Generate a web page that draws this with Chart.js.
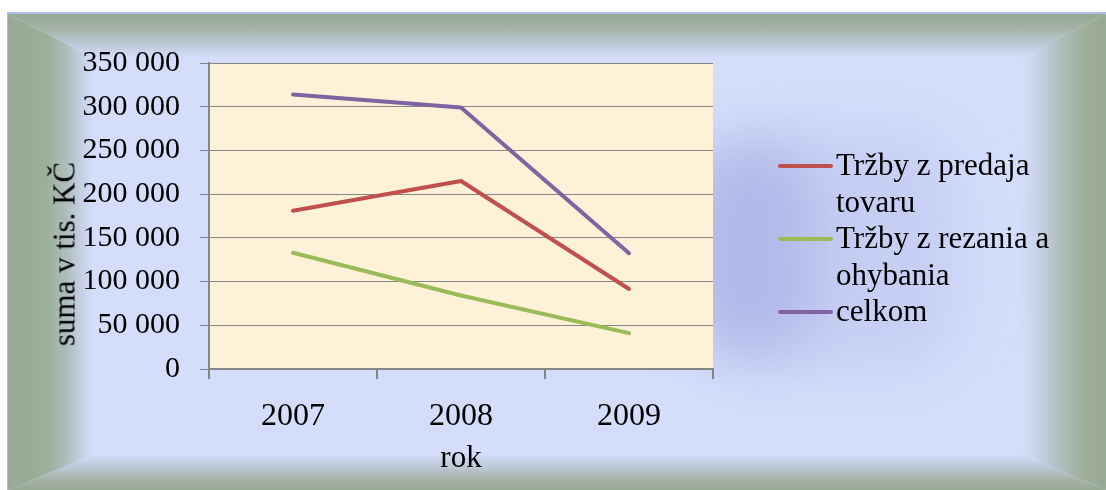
<!DOCTYPE html>
<html lang="sk">
<head>
<meta charset="utf-8">
<title>Tržby 2007–2009</title>
<script src="https://cdn.jsdelivr.net/npm/chart.js@4/dist/chart.umd.min.js"></script>
<style>
  html, body { margin: 0; padding: 0; background: #ffffff; }
  body { width: 1106px; height: 490px; position: relative; overflow: hidden; font-family: "Liberation Serif", "Times New Roman", serif; }
  #frame {
    position: absolute; left: 7px; top: 12px; width: 1099px; height: 478px;
    background: #d4defb; border-top: 2px solid #a9bfe8; border-left: 1px solid #a9bfe8;
    box-sizing: border-box; overflow: hidden;
  }
  .bevel { position: absolute; }
  #bTop {
    left: 0; top: 0; width: 100%; height: 44px;
    clip-path: polygon(0 0, 100% 0, calc(100% - 86px) 100%, 86px 100%);
    background: linear-gradient(to bottom, #98a994 0%, #a3b2a5 30%, #bac6d2 65%, #d4defb 100%);
  }
  #bBottom {
    left: 0; bottom: 0; width: 100%; height: 36px;
    clip-path: polygon(0 100%, 100% 100%, calc(100% - 86px) 0, 86px 0);
    background: linear-gradient(to top, #98a994 0%, #a6b4a9 30%, #bdc9d7 65%, #d4defb 100%);
  }
  #bLeft {
    left: 0; top: 0; width: 86px; height: 100%;
    clip-path: polygon(0 0, 100% 44px, 100% calc(100% - 36px), 0 100%);
    background: linear-gradient(to right, #98a994 0%, #9caf9a 45%, #aebdbb 68%, #c6d1e6 86%, #d4defb 100%);
  }
  #bRight {
    right: 0; top: 0; width: 86px; height: 100%;
    clip-path: polygon(100% 0, 0 44px, 0 calc(100% - 36px), 100% 100%);
    background: linear-gradient(to left, #98a994 0%, #9eae9b 25%, #b1bfc0 55%, #c8d3ea 80%, #d4defb 100%);
  }
  #glow1 {
    position: absolute; left: 690px; top: 150px; width: 120px; height: 200px;
    background: #aeb6e6; border-radius: 40px; filter: blur(28px); opacity: 0.9;
  }
  #glow2 {
    position: absolute; left: 700px; top: 130px; width: 260px; height: 240px;
    background: #c0c8f0; border-radius: 60px; filter: blur(30px); opacity: 0.7;
  }
  #chartBox { position: absolute; left: 0; top: 0; width: 1106px; height: 490px; }
  #yTitle {
    position: absolute; left: 64px; top: 254px; transform: translate(-50%, -50%) rotate(-90deg);
    font-size: 31px; color: #000; white-space: nowrap; line-height: 1;
  }
  #legend { position: absolute; left: 778px; top: 147px; font-size: 31px; line-height: 36.5px; color: #000; }
  .item { display: flex; align-items: flex-start; }
  .swatch { width: 55px; height: 4px; border-radius: 2px; margin-top: 17px; margin-right: 3px; flex: none; }
  .label { width: 228px; }
</style>
</head>
<body>
<div id="frame">
  <div class="bevel" id="bTop"></div>
  <div class="bevel" id="bBottom"></div>
  <div class="bevel" id="bLeft"></div>
  <div class="bevel" id="bRight"></div>
</div>
<div id="glow2"></div>
<div id="glow1"></div>
<div id="chartBox"><canvas id="chart" width="1106" height="490"></canvas></div>
<div id="yTitle"></div>
<div id="legend"></div>
<script>
// Roky a tržby (v tis. Kč)
const years = ['2007', '2008', '2009'];
const trzbyPredaj = [181000, 215000, 91500];
const trzbyRezanie = [133000, 84000, 41000];
const celkom = [314000, 299000, 132500];
const seriesNames = ['Tržby z predaja tovaru', 'Tržby z rezania a ohybania', 'celkom'];
const seriesColors = ['#c0504d', '#9bbb59', '#8064a2'];
const yTicks = [0, 50000, 100000, 150000, 200000, 250000, 300000, 350000];
const yAxisTitle = 'suma v tis. KČ';
const xAxisTitle = 'rok';

// tisíce oddelené medzerou, napr. 350 000
function fmt(v) {
  return String(v).replace(/\B(?=(\d{3})+(?!\d))/g, ' ');
}

const plotBackground = {
  id: 'plotBackground',
  beforeDraw(chart) {
    const { ctx, chartArea: a } = chart;
    ctx.save();
    ctx.fillStyle = '#fdf1d7';
    ctx.fillRect(a.left, a.top, a.right - a.left, a.bottom - a.top);
    ctx.restore();
  }
};

const seriesValues = [trzbyPredaj, trzbyRezanie, celkom];

const chart = new Chart(document.getElementById('chart'), {
  type: 'line',
  data: {
    labels: years,
    datasets: seriesValues.map((vals, i) => ({
      label: seriesNames[i],
      data: vals,
      borderColor: seriesColors[i],
      backgroundColor: seriesColors[i],
      borderWidth: 4,
      borderCapStyle: 'round',
      borderJoinStyle: 'round',
      tension: 0,
      pointRadius: 0,
      pointHoverRadius: 0,
      fill: false
    }))
  },
  options: {
    responsive: false,
    animation: false,
    events: [],
    layout: { padding: { left: 0, top: 63, right: 393, bottom: 0 } },
    plugins: {
      legend: { display: false },
      tooltip: { enabled: false }
    },
    scales: {
      x: {
        offset: true,
        grid: { offset: true, drawOnChartArea: false, drawTicks: true, tickLength: 10, color: '#858585', lineWidth: 2 },
        border: { display: true, color: '#858585', width: 2 },
        ticks: { color: '#000', padding: 18, font: { family: '"Liberation Serif", serif', size: 32 } },
        title: { display: true, text: xAxisTitle, color: '#000', padding: { top: 0, bottom: 13 },
                 font: { family: '"Liberation Serif", serif', size: 31 } },
        afterFit(scale) { scale.height = 121; }
      },
      y: {
        min: 0,
        max: 350000,
        afterBuildTicks(scale) { scale.ticks = yTicks.map(v => ({ value: v })); },
        grid: { color: '#868686', lineWidth: 1, drawTicks: true, tickLength: 9 },
        border: { display: true, color: '#858585', width: 2 },
        ticks: { color: '#000', padding: 20, callback: v => fmt(v), font: { family: '"Liberation Serif", serif', size: 30 } },
        title: { display: false },
        afterFit(scale) { scale.width = 209; }
      }
    }
  },
  plugins: [plotBackground]
});

// popis osi Y
document.getElementById('yTitle').textContent = yAxisTitle;

// legenda vpravo, zostavená z datasetov grafu
const legend = document.getElementById('legend');
chart.data.datasets.forEach(ds => {
  const item = document.createElement('div');
  item.className = 'item';
  const sw = document.createElement('div');
  sw.className = 'swatch';
  sw.style.background = ds.borderColor;
  const lb = document.createElement('div');
  lb.className = 'label';
  lb.textContent = ds.label;
  item.appendChild(sw);
  item.appendChild(lb);
  legend.appendChild(item);
});
</script>
</body>
</html>
